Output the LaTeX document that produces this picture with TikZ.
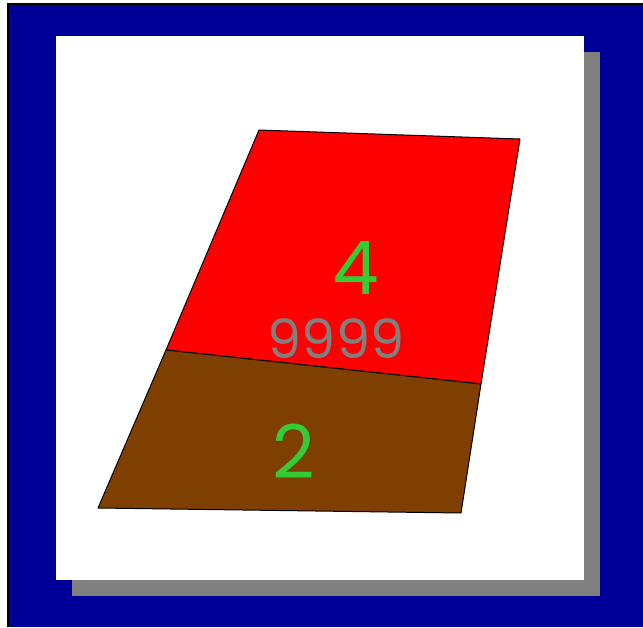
\documentclass[tikz,border=0pt]{standalone}
\usepackage{fontspec}
\setmainfont{Poppins}
\definecolor{bgblue}{HTML}{000099}
\definecolor{shadowgray}{HTML}{808080}
\definecolor{lblgreen}{HTML}{33CC33}
\definecolor{lblgray}{HTML}{808080}
\definecolor{brownfill}{HTML}{7F3F00}
\tikzset{
  face/.style={draw=black, line width=1pt, line join=round},
  lbl/.style={inner sep=0pt, font=\fontsize{74}{74}\selectfont, text=lblgreen},
  lblsmall/.style={inner sep=0pt, font=\fontsize{54}{54}\selectfont, text=lblgray},
}
\begin{document}
\begin{tikzpicture}[x=1pt, y=-1pt]
\useasboundingbox (0,0) rectangle (643,627);
\fill[white] (0,0) rectangle (643,627);
\fill[black] (7,3) rectangle (643,627);
\fill[bgblue] (9,5) rectangle (643,627);
\fill[shadowgray] (72,52) rectangle (600,596);
\fill[white] (56,36) rectangle (584,580);
\coordinate (a) at (259,130);
\coordinate (b) at (520,139);
\coordinate (c) at (481,384);
\coordinate (d) at (166,350);
\coordinate (e) at (461,513);
\coordinate (f) at (98,508);
\draw[face, fill=red] (a) -- (b) -- (c) -- (d) -- cycle;
\draw[face, fill=brownfill] (d) -- (c) -- (e) -- (f) -- cycle;
\node[lbl] (four) at (356,268) {4};
\node[lblsmall] (nines) at (336,339) {9999};
\node[lbl] (two) at (294,451) {2};
\end{tikzpicture}
\end{document}
